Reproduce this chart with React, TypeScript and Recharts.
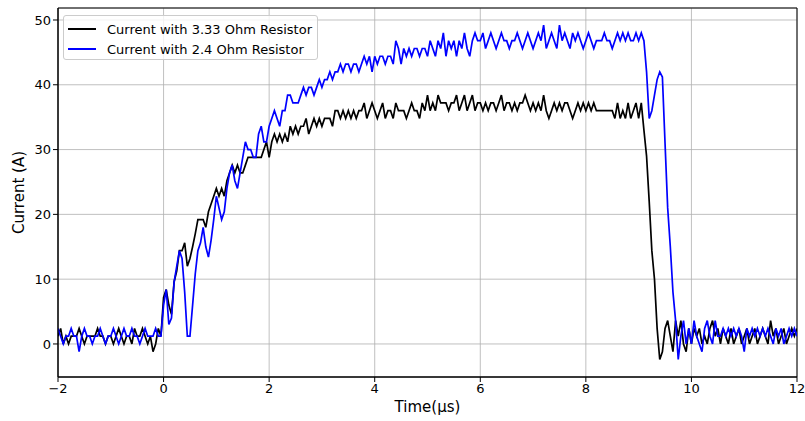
import React from "react";
import { LineChart, Line, XAxis, YAxis, CartesianGrid, Legend, ReferenceArea } from "recharts";

// sampling grid of the scope capture (µs)
const T_START = -2;
const T_STEP = 0.05;

// current through the 3.33 Ohm resistor (A), one row per µs
const current333 = [
    1.2, 2.4, 0, 1.2, 0, 1.2, 1.2, 1.2, 2.4, 1.2, 0, 1.2, 1.2, 1.2, 1.2, 2.4, 1.2, 1.2, 0, 1.2,
    1.2, 0, 1.2, 2.4, 1.2, 0, 1.2, 1.2, 0, 2.4, 1.2, 1.2, 2.4, 1.2, 0, 1.2, -1.2, 0, 2.4, 1.2,
    7.2, 8.4, 6, 4.6, 9.6, 11.3, 14.4, 14.4, 15.6, 12, 13.2, 15, 17, 19.2, 19.2, 19.2, 18, 20.4, 21.6, 22.8,
    24, 22.8, 24, 22.8, 25.2, 26.4, 27.6, 26.4, 27.6, 26.4, 26.4, 27.6, 28.8, 28.8, 28.8, 28.8, 28.8, 28.8, 30, 31.2,
    28.8, 31.2, 32.4, 31.2, 32.4, 31.2, 32.4, 31.2, 33.6, 32.4, 33.6, 32.4, 33.6, 33.6, 34.8, 32.4, 33.6, 34.8, 33.6, 34.8,
    33.6, 34.8, 34.8, 34.8, 33.6, 36, 36, 34.8, 36, 34.8, 36, 34.8, 36, 34.8, 36, 36, 37.2, 34.8, 36, 37.2,
    36, 34.8, 36, 37.2, 34.8, 36, 36, 34.8, 37.2, 36, 36, 36, 34.8, 36, 37.2, 36, 36, 34.8, 37.2, 36,
    38.4, 36, 37.2, 36, 38.4, 37.2, 37.2, 37.2, 36, 37.2, 37.2, 38.4, 36, 37.2, 38.4, 36, 37.2, 38.4, 36, 37.2,
    37.2, 36, 37.2, 36, 37.2, 37.2, 36, 37.2, 38.4, 36, 37.2, 37.2, 36, 37.2, 36, 37.2, 37.2, 38.4, 37.2, 36,
    37.2, 36, 37.2, 36, 38.4, 36, 34.8, 36, 37.2, 36, 37.2, 36, 37.2, 37.2, 36, 34.8, 36, 37.2, 36, 37.2,
    36, 37.2, 36, 37.2, 36, 36, 36, 36, 36, 36, 36, 34.8, 37.2, 34.8, 36, 34.8, 37.2, 34.8, 36, 37.2,
    34.8, 37.2, 33, 29, 22, 14.4, 10, 2.4, -2.4, -1.2, 2.4, 3.6, 1.2, -1.2, 3.6, 1.2, 3.6, 0, -1.2, 2.4,
    0, 2.4, 1.2, 2.4, 0, 1.2, 0, 2.4, 3.6, 1.2, 2.4, 0, 2.4, 1.2, 0, 2.4, 0, 1.2, 2.4, 0,
    1.2, 2.4, 0, 1.2, 2.4, 0, 1.2, 2.4, 1.2, 0, 3.6, 1.2, 2.4, 0, 1.2, 2.4, 0, 1.2, 2.4, 1.2,
    2.4,
];

// current through the 2.4 Ohm resistor (A)
const current24 = [
    2.4, 1.2, 0, 1.2, 1.2, 2.4, 1.2, 1.2, -1.2, 1.2, 2.4, 1.2, 1.2, 0, 1.2, 1.2, 2.4, 1.2, 0, 1.2,
    1.2, 2.4, 1.2, 0, 1.2, 2.4, 1.2, 1.2, 2.4, 1.2, 1.2, 0, 1.2, 2.4, 1.2, 1.2, 1.2, 2.4, 1.2, 1.2,
    6, 8.4, 3, 4, 9.6, 12, 14.4, 13.2, 8, 1.2, 1.2, 6, 10.8, 14.4, 15.6, 18, 15, 13.4, 16, 19.2,
    22.8, 21, 19.2, 20.4, 24, 26.4, 27.6, 25.2, 24, 26.4, 28.8, 31.2, 30, 30, 28.8, 28.8, 32.4, 33.6, 31.2, 31.2,
    33.6, 34.8, 36, 34.8, 33.6, 36, 36, 38.4, 38.4, 37.2, 37.2, 37.2, 38.4, 39.6, 38.4, 39.6, 39.6, 38.4, 39.6, 40.8,
    39.6, 40.8, 40.8, 42, 40.8, 42, 42, 43.2, 42, 43.2, 43.2, 42, 43.2, 43.2, 42, 43.2, 44.4, 43.2, 44.4, 42,
    44.4, 43.2, 44.4, 44.4, 43.2, 44.4, 44.4, 43.2, 46.8, 45.6, 43.2, 45.6, 44.4, 45.6, 44.4, 45.6, 45.6, 44.4, 45.6, 45.6,
    44.4, 46.8, 45.6, 44.4, 46.8, 45.6, 48, 44.4, 46.8, 45.6, 46.8, 44.4, 46.8, 45.6, 48, 45.6, 44.4, 46.8, 48, 46.8,
    46.8, 48, 45.6, 46.8, 48, 46.8, 45.6, 46.8, 48, 46.8, 46.8, 45.6, 46.8, 46.8, 48, 46.8, 45.6, 46.8, 48, 46.8,
    45.6, 46.8, 48, 46.8, 49.2, 45.6, 46.8, 48, 46.8, 45.6, 49.2, 46.8, 48, 46.8, 45.6, 48, 46.8, 48, 46.8, 45.6,
    46.8, 48, 46.8, 45.6, 46.8, 46.8, 46.8, 48, 46.8, 46.8, 45.6, 46.8, 48, 46.8, 48, 46.8, 48, 46.8, 46.8, 48,
    46.8, 48, 46.8, 42, 34.8, 36, 38.4, 40.8, 42, 41.2, 31, 21, 15, 8, 3.6, -2.4, 1.2, 3.6, 0, 2.4,
    0, 3.6, 1.2, 0, -1.2, 2.4, 3.6, 1.2, 0, 3.6, 1.2, 1.2, 2.4, 1.2, 2.4, 1.2, 2.4, 1.2, 2.4, 1.2,
    -1.2, 2.4, 1.2, 2.4, 1.2, 2.4, 1.2, 2.4, 1.2, 2.4, 1.2, 0, 2.4, 1.2, 2.4, 0, 1.2, 2.4, 1.2, 2.4,
    1.2,
];

const xTicks = [-2, 0, 2, 4, 6, 8, 10, 12];
const yTicks = [0, 10, 20, 30, 40, 50];
const seriesNames = ["Current with 3.33 Ohm Resistor", "Current with 2.4 Ohm Resistor"];

const X_DOMAIN: [number, number] = [-2, 12];
const Y_DOMAIN: [number, number] = [-5.1, 51.85];
const FONT = "'DejaVu Sans', sans-serif";

const data = current333.map((v, i) => ({
    t: Number((T_START + i * T_STEP).toFixed(2)),
    r333: v,
    r24: current24[i],
}));

const fmtTick = (v: number) => (v < 0 ? "\u2212" + Math.abs(v) : String(v));

const LegendBox = () => (
    <div
        style={{
            width: 255,
            height: 45,
            boxSizing: "border-box",
            border: "1px solid #cccccc",
            borderRadius: 3,
            background: "rgba(255,255,255,0.8)",
            padding: "3px 0 0 4px",
            fontFamily: FONT,
            fontSize: 13,
            color: "#000",
        }}
    >
        {seriesNames.map((name, i) => (
            <div key={name} style={{ display: "flex", alignItems: "center", height: 20 }}>
                <div style={{ width: 28, height: 2, background: i === 0 ? "#000000" : "#0000ff", marginRight: 11 }} />
                <span style={{ whiteSpace: "nowrap" }}>{name}</span>
            </div>
        ))}
    </div>
);

const App: React.FC = () => {
    return (
        <div style={{ position: "fixed", left: 0, top: 0, width: 805, height: 421, background: "#fff", fontFamily: FONT }}>
            <LineChart width={805} height={421} data={data} margin={{ top: 8, right: 8, bottom: 0, left: 0 }}>
                <CartesianGrid stroke="#b0b0b0" strokeWidth={0.8} />
                <XAxis
                    dataKey="t"
                    type="number"
                    domain={X_DOMAIN}
                    ticks={xTicks}
                    allowDataOverflow
                    height={44}
                    tickSize={5}
                    tickMargin={2}
                    tickFormatter={fmtTick}
                    tick={{ fill: "#000", fontSize: 13, fontFamily: FONT }}
                    tickLine={{ stroke: "#000" }}
                    axisLine={{ stroke: "#000" }}
                    label={{ value: "Time(\u00b5s)", position: "insideBottom", offset: 9, fill: "#000", fontSize: 15, fontFamily: FONT }}
                />
                <YAxis
                    type="number"
                    domain={Y_DOMAIN}
                    ticks={yTicks}
                    allowDataOverflow
                    width={58}
                    tickSize={5}
                    tickMargin={2}
                    tickFormatter={fmtTick}
                    tick={{ fill: "#000", fontSize: 13, fontFamily: FONT }}
                    tickLine={{ stroke: "#000" }}
                    axisLine={{ stroke: "#000" }}
                    label={{ value: "Current (A)", angle: -90, position: "center", dx: -10, fill: "#000", fontSize: 15, fontFamily: FONT }}
                />
                <ReferenceArea x1={X_DOMAIN[0]} x2={X_DOMAIN[1]} y1={Y_DOMAIN[0]} y2={Y_DOMAIN[1]} fill="none" stroke="#000" strokeWidth={1} />
                <Legend
                    layout="vertical"
                    align="center"
                    verticalAlign="middle"
                    content={() => <LegendBox />}
                    wrapperStyle={{ left: 63, top: 15, width: 255 }}
                />
                <Line type="linear" dataKey="r333" stroke="#000000" strokeWidth={1.7} dot={false} isAnimationActive={false} />
                <Line type="linear" dataKey="r24" stroke="#0000ff" strokeWidth={1.7} dot={false} isAnimationActive={false} />
            </LineChart>
        </div>
    );
};

export default App;
